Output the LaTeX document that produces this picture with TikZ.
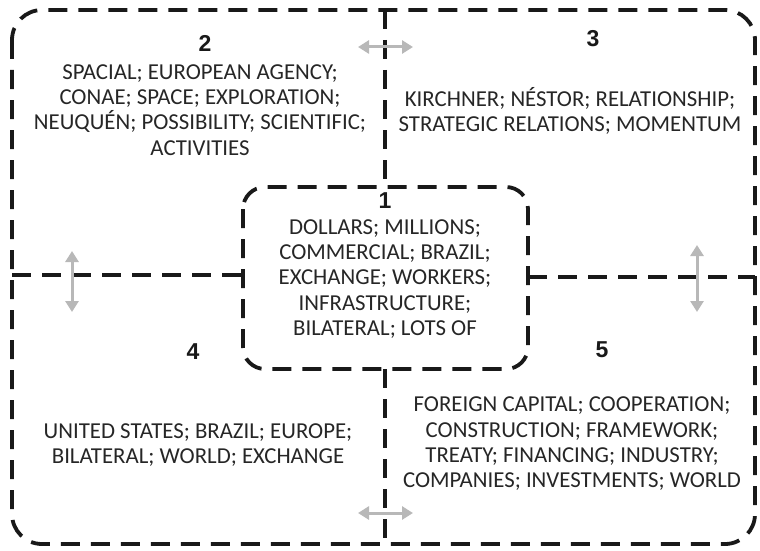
\documentclass[tikz,border=0pt]{standalone}
\usepackage{fontspec}
\setmainfont{Carlito}
\newfontfamily\numfont{Liberation Sans}
\usetikzlibrary{arrows.meta}
\tikzset{
  border/.style={line width=3.8pt, dash pattern=on 19pt off 11pt, black!90},
  link/.style={{Triangle[width=13pt,length=11pt]}-{Triangle[width=13pt,length=11pt]}, line width=3pt, black!28},
  words/.style={align=center, font=\fontsize{22.8}{25.3}\selectfont, text=black!85, inner sep=0pt},
  num/.style={font=\numfont\bfseries\fontsize{23}{23}\selectfont, text=black!90, inner sep=0pt}
}
\begin{document}
\begin{tikzpicture}[x=1pt,y=-1pt]
  \useasboundingbox (0,0) rectangle (760,551);
  % frame and dividers
  \draw[border, rounded corners=30pt] (12,10) rectangle (755,544);
  \draw[border, rounded corners=22pt] (243,187) rectangle (528,369);
  \draw[border] (385,10) -- (385,187);
  \draw[border] (385,369) -- (385,544);
  \draw[border] (12,275) -- (243,275);
  \draw[border] (528,277) -- (755,277);
  % numbers
  \node[num] (n1) at (385,201) {1};
  \node[num] (n2) at (205,43) {2};
  \node[num] (n3) at (593,39) {3};
  \node[num] (n4) at (193,352) {4};
  \node[num] (n5) at (602,350) {5};
  % words
  \node[words] (w1) at (385,279) {DOLLARS; MILLIONS;\\COMMERCIAL; BRAZIL;\\EXCHANGE; WORKERS;\\INFRASTRUCTURE;\\BILATERAL; LOTS OF};
  \node[words] (w2) at (200,110) {SPACIAL; EUROPEAN AGENCY;\\CONAE; SPACE; EXPLORATION;\\NEUQUÉN; POSSIBILITY; SCIENTIFIC;\\ACTIVITIES};
  \node[words] (w3) at (570,111) {KIRCHNER; NÉSTOR; RELATIONSHIP;\\STRATEGIC RELATIONS; MOMENTUM};
  \node[words] (w4) at (198,445) {UNITED STATES; BRAZIL; EUROPE;\\BILATERAL; WORLD; EXCHANGE};
  \node[words] (w5) at (572,444) {FOREIGN CAPITAL; COOPERATION;\\CONSTRUCTION; FRAMEWORK;\\TREATY; FINANCING; INDUSTRY;\\COMPANIES; INVESTMENTS; WORLD};
  % links between regions
  \coordinate (a2) at (358,47);
  \coordinate (a3) at (413,47);
  \coordinate (b2) at (72,251);
  \coordinate (b4) at (72,312);
  \coordinate (c3) at (697,245);
  \coordinate (c5) at (697,312);
  \coordinate (d4) at (358,513);
  \coordinate (d5) at (413,513);
  \draw[link] (a2) -- (a3);
  \draw[link] (b2) -- (b4);
  \draw[link] (c3) -- (c5);
  \draw[link] (d4) -- (d5);
\end{tikzpicture}
\end{document}
